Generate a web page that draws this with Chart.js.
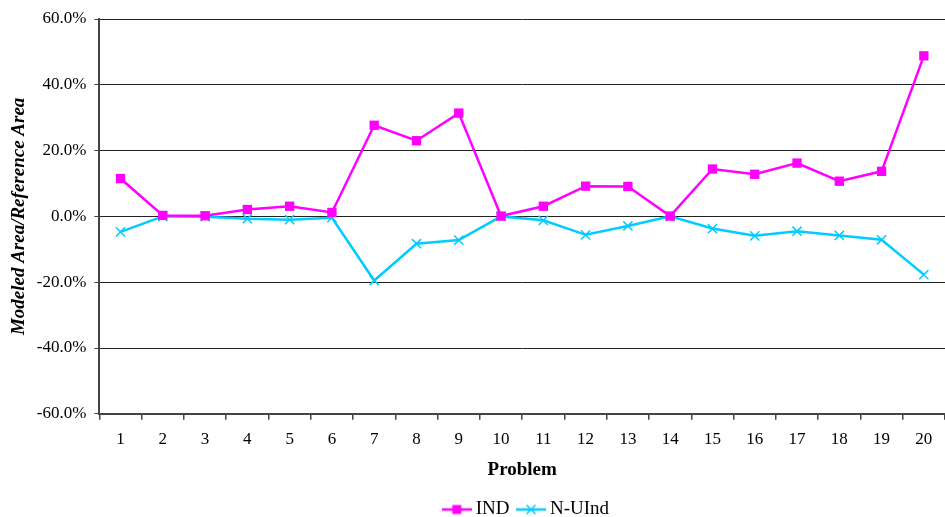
<!DOCTYPE html>
<html>
<head>
<meta charset="utf-8">
<script src="https://cdn.jsdelivr.net/npm/chart.js@4/dist/chart.umd.min.js"></script>
<style>
html,body{margin:0;padding:0;background:#fff;}
#wrap{width:945px;height:517px;position:relative;}
</style>
</head>
<body>
<div id="wrap"><canvas id="c" width="945" height="517"></canvas></div>
<script>
const categories = ["1","2","3","4","5","6","7","8","9","10","11","12","13","14","15","16","17","18","19","20"];
const indValues = [11.5,0.3,0.2,2.1,3.1,1.2,27.7,23.0,31.4,0.1,3.1,9.2,9.1,0.1,14.4,12.8,16.2,10.7,13.7,48.8];
const nuindValues = [-4.7,0.0,-0.1,-0.7,-1.0,-0.4,-19.5,-8.3,-7.2,0.0,-1.2,-5.6,-2.9,0.0,-3.7,-5.9,-4.5,-5.8,-7.1,-17.7];
const seriesNames = ["IND","N-UInd"];
const yTicks = [-60,-40,-20,0,20,40,60];

const MAG = '#FF00FF';
const CYAN = '#00CCFF';
const SERIF = '"Liberation Serif", "Times New Roman", serif';

function legendIcon(color, type){
  const c = document.createElement('canvas');
  c.width = 30; c.height = 12;
  const g = c.getContext('2d');
  g.strokeStyle = color; g.lineWidth = 2.5;
  g.beginPath(); g.moveTo(0,6); g.lineTo(30,6); g.stroke();
  if(type==='rect'){
    g.fillStyle = color; g.fillRect(10.5,1.5,9,9);
  } else {
    g.lineWidth = 1.5;
    g.beginPath(); g.moveTo(10.5,1.5); g.lineTo(19.5,10.5); g.moveTo(19.5,1.5); g.lineTo(10.5,10.5); g.stroke();
  }
  return c;
}
const icons = [legendIcon(MAG,'rect'), legendIcon(CYAN,'cross')];

// Center the legend under the plot area (as in the reference) instead of the whole canvas
const legendShift = {
  id: 'legendShift',
  afterLayout(chart){
    const lg = chart.legend; const ca = chart.chartArea;
    if(!lg) return;
    const d = (ca.left + ca.right)/2 - (lg.left + lg.right)/2 + 6;
    lg.left += d; lg.right += d;
  }
};

new Chart(document.getElementById('c'), {
  type: 'line',
  data: {
    labels: categories,
    datasets: [
      {label: seriesNames[0], data: indValues, borderColor: MAG, backgroundColor: MAG,
       borderWidth: 2.5, pointStyle: 'rect', pointRadius: 6.6, pointBorderWidth: 0,
       pointBackgroundColor: MAG, pointBorderColor: MAG, tension: 0, fill: false, clip: false},
      {label: seriesNames[1], data: nuindValues, borderColor: CYAN, backgroundColor: CYAN,
       borderWidth: 2.5, pointStyle: 'crossRot', pointRadius: 6.5, pointBorderWidth: 1.5,
       pointBorderColor: CYAN, tension: 0, fill: false, clip: false}
    ]
  },
  plugins: [legendShift],
  options: {
    responsive: false,
    animation: false,
    layout: {autoPadding: false, padding: {left: 7, right: 0, top: 19, bottom: -12}},
    plugins: {
      tooltip: {enabled: false},
      legend: {
        position: 'bottom',
        labels: {
          usePointStyle: true,
          pointStyleWidth: 19,
          padding: 12,
          color: '#000',
          font: {family: SERIF, size: 19},
          generateLabels: (chart) => chart.data.datasets.map((d,i) => ({
            text: d.label, pointStyle: icons[i], fillStyle: d.borderColor,
            strokeStyle: d.borderColor, lineWidth: 0, datasetIndex: i, hidden: false, fontColor: '#000'
          }))
        }
      }
    },
    scales: {
      x: {
        type: 'category',
        offset: true,
        afterFit: (s) => { s.paddingRight = 0; },
        grid: {offset: true, drawOnChartArea: false, drawTicks: true, tickLength: 6, tickColor: '#444', lineWidth: 1.5},
        border: {color: '#444', width: 2},
        ticks: {color: '#000', font: {family: SERIF, size: 17}, padding: 10, maxRotation: 0, autoSkip: false},
        title: {display: true, text: 'Problem', color: '#000', font: {family: SERIF, size: 19, weight: 'bold'}, padding: {top: -2, bottom: 7}}
      },
      y: {
        min: -60, max: 60,
        afterBuildTicks: (axis) => { axis.ticks = yTicks.map(v => ({value: v})); },
        grid: {color: '#222', lineWidth: 1, drawTicks: true, tickLength: 5, tickColor: '#444'},
        border: {color: '#444', width: 2},
        ticks: {color: '#000', font: {family: SERIF, size: 17}, padding: 8,
          callback: (v) => v.toFixed(1) + '%'},
        title: {display: true, text: 'Modeled Area/Reference Area', color: '#000',
          font: {family: SERIF, size: 19, weight: 'bold', style: 'italic'}, padding: {top: 1, bottom: -2}}
      }
    }
  }
});
</script>
</body>
</html>
